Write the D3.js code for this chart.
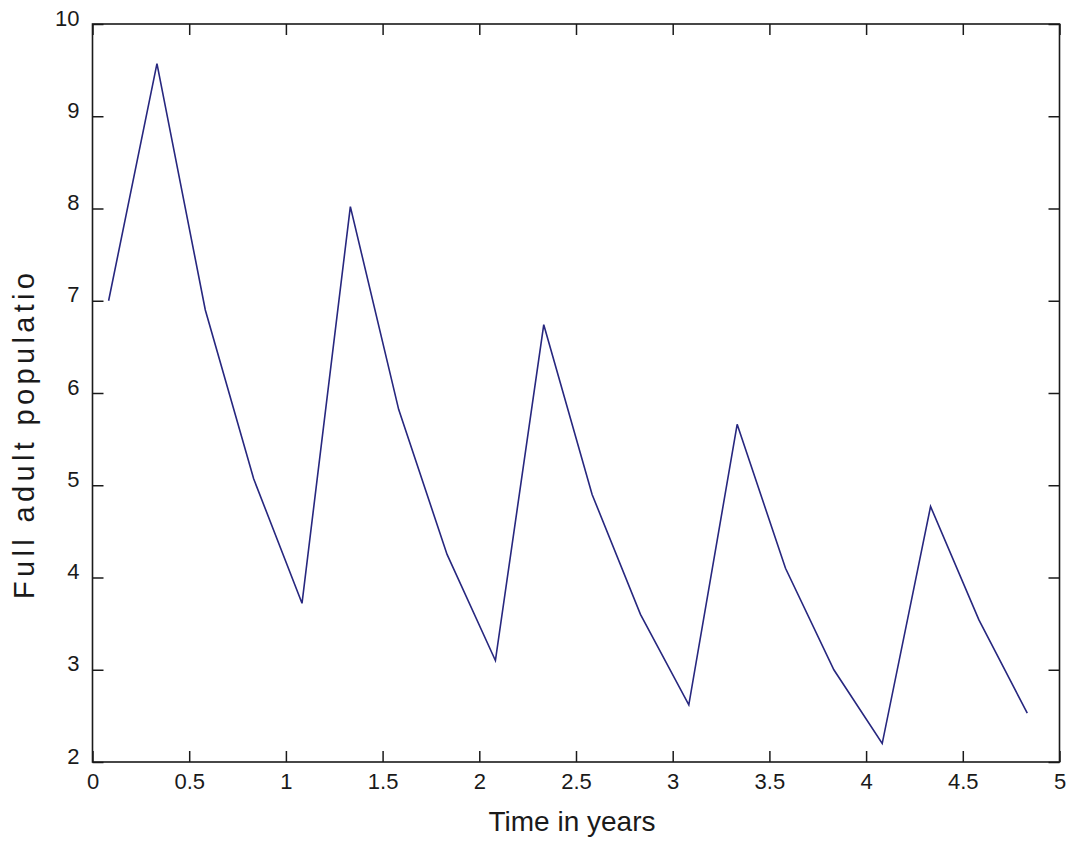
<!DOCTYPE html>
<html>
<head>
<meta charset="utf-8">
<script src="https://cdn.jsdelivr.net/npm/d3@7"></script>
<style>
  html, body { margin: 0; padding: 0; background: #ffffff; }
  svg { display: block; }
  text { font-family: "Liberation Sans", Arial, Helvetica, sans-serif; fill: #1a1a1a; }
</style>
</head>
<body>
<svg id="chart" width="1071" height="844"></svg>
<script>
// Sampling times (years) and the adult population at each sample
const timeYears = [0.0833, 0.3333, 0.5833, 0.8333, 1.0833, 1.3333, 1.5833, 1.8333, 2.0833, 2.3333,
                   2.5833, 2.8333, 3.0833, 3.3333, 3.5833, 3.8333, 4.0833, 4.3333, 4.5833, 4.8333];
const adultPopulation = [7.0, 9.57, 6.9, 5.07, 3.72, 8.02, 5.82, 4.25, 3.1, 6.74,
                         4.9, 3.6, 2.62, 5.66, 4.1, 3.0, 2.2, 4.77, 3.54, 2.53];

const xTicks = [0, 0.5, 1, 1.5, 2, 2.5, 3, 3.5, 4, 4.5, 5];
const xTickLabels = ["0", "0.5", "1", "1.5", "2", "2.5", "3", "3.5", "4", "4.5", "5"];
const yTicks = [2, 3, 4, 5, 6, 7, 8, 9, 10];
const yTickLabels = ["2", "3", "4", "5", "6", "7", "8", "9", "10"];

const xLabel = "Time in years";
const yLabel = "Full adult populatio";

const svg = d3.select("#chart");
const box = { left: 92.5, right: 1059.5, top: 24, bottom: 762 };

const x = d3.scaleLinear().domain([0, 5]).range([box.left, box.right]);
const y = d3.scaleLinear().domain([2, 10]).range([box.bottom, box.top]);

const tickLen = 11;
const axisColor = "#1a1a1a";

// Bottom axis: labels outside, ticks pointing inward
const gBottom = svg.append("g").attr("transform", `translate(0,${box.bottom})`)
  .call(d3.axisBottom(x).tickValues(xTicks).tickFormat((d, i) => xTickLabels[i])
        .tickSizeInner(-tickLen).tickSizeOuter(0).tickPadding(13));
// Top axis: ticks only
const gTop = svg.append("g").attr("transform", `translate(0,${box.top})`)
  .call(d3.axisTop(x).tickValues(xTicks).tickFormat("").tickSizeInner(-tickLen).tickSizeOuter(0));
// Left axis
const gLeft = svg.append("g").attr("transform", `translate(${box.left},0)`)
  .call(d3.axisLeft(y).tickValues(yTicks).tickFormat((d, i) => yTickLabels[i])
        .tickSizeInner(-tickLen).tickSizeOuter(0).tickPadding(13));
// Right axis: ticks only
const gRight = svg.append("g").attr("transform", `translate(${box.right},0)`)
  .call(d3.axisRight(y).tickValues(yTicks).tickFormat("").tickSizeInner(-tickLen).tickSizeOuter(0));

[gBottom, gTop, gLeft, gRight].forEach(g => {
  g.select(".domain").remove();
  g.selectAll(".tick line").attr("stroke", axisColor).attr("stroke-width", 1.5);
  g.selectAll(".tick text").attr("font-size", 22).style("fill", "#1a1a1a")
    .attr("font-family", "'Liberation Sans', Arial, sans-serif");
});
gLeft.selectAll(".tick text").attr("dy", "0.05em");
gBottom.selectAll(".tick text").attr("dy", "0.62em");

// Population line
const line = d3.line().x((d, i) => x(timeYears[i])).y(d => y(d));
svg.append("path")
  .datum(adultPopulation)
  .attr("fill", "none")
  .attr("stroke", "#27277f")
  .attr("stroke-width", 1.6)
  .attr("stroke-linejoin", "miter")
  .attr("d", line);

// Axes box
svg.append("rect")
  .attr("x", box.left).attr("y", box.top)
  .attr("width", box.right - box.left).attr("height", box.bottom - box.top)
  .attr("fill", "none").attr("stroke", axisColor).attr("stroke-width", 1.6);

// Axis titles
svg.append("text")
  .attr("x", 572).attr("y", 831)
  .attr("text-anchor", "middle")
  .attr("font-size", 28)
  .text(xLabel);

svg.append("text")
  .attr("transform", "translate(34,436) rotate(-90)")
  .attr("text-anchor", "middle")
  .attr("font-size", 29)
  .attr("textLength", 326)
  .attr("lengthAdjust", "spacing")
  .text(yLabel);
</script>
</body>
</html>
